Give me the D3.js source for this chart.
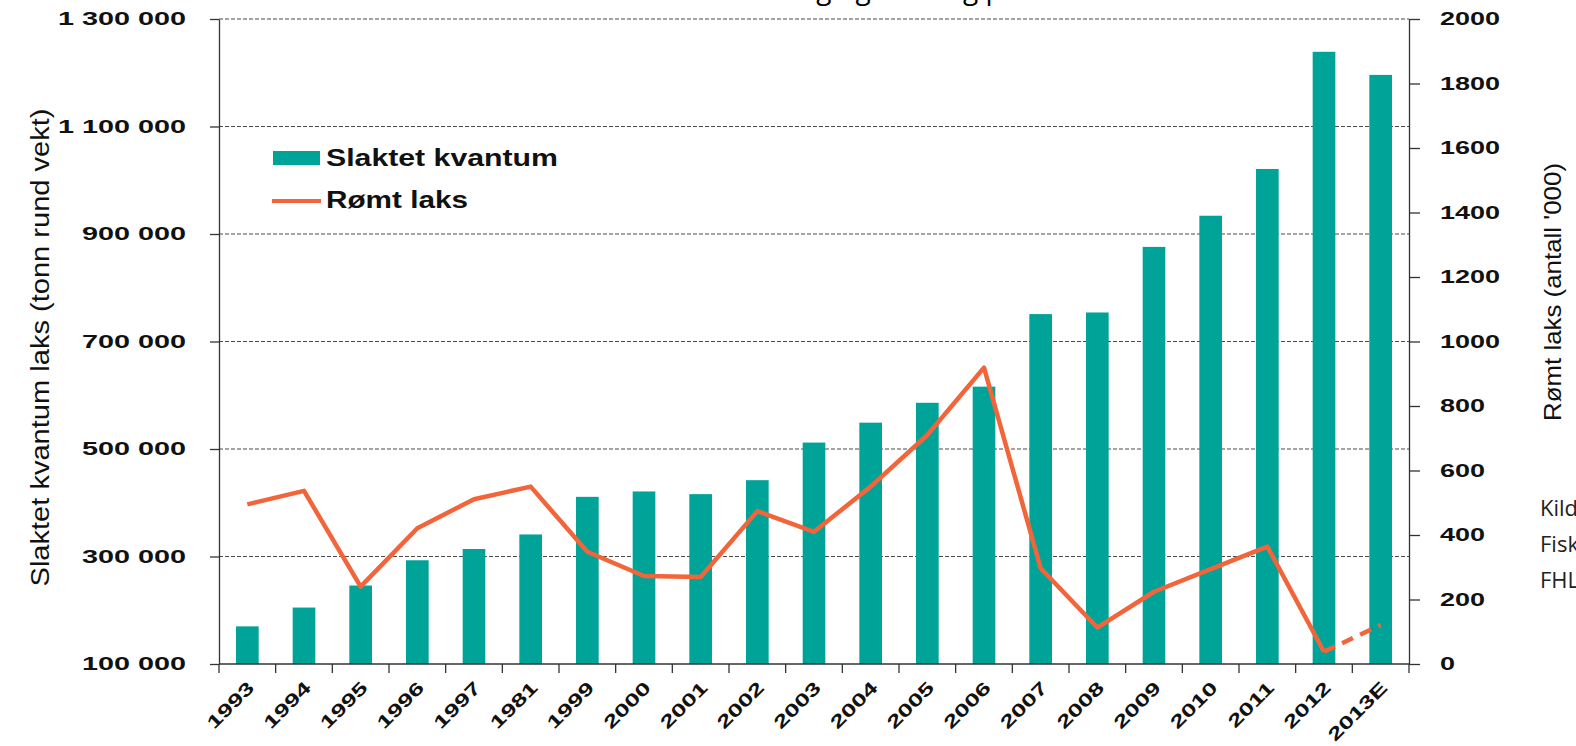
<html>
<head>
    <meta charset="UTF-8" />
    <script src="https://d3js.org/d3.v7.min.js"></script>
    <style>
        body { margin: 0; background: white; }
        .grid { stroke: #4a4a4a; stroke-width: 1.2px; stroke-dasharray: 4,2; }
        .tick text { font-family: "Liberation Sans", Arial, sans-serif; font-weight: bold; font-size: 18px; fill: #111; }
        .axis path, .axis line { stroke: #333; stroke-width: 1.3px; }
    </style>
</head>
<body>
<svg id="chart" width="1576" height="746"></svg>
<script>
    // data
    const years = ["1993","1994","1995","1996","1997","1981","1999","2000","2001","2002","2003",
                   "2004","2005","2006","2007","2008","2009","2010","2011","2012","2013E"];
    const slaktet = [170000, 205000, 246000, 293000, 314000, 341000, 411000, 421000, 416000, 442000, 512000,
                     549000, 586000, 616000, 751000, 754000, 876000, 934000, 1021000, 1239000, 1196000];
    const romt = [495, 537, 240, 421, 511, 550, 348, 273, 270, 474, 410,
                  550, 710, 919, 297, 113, 224, 294, 364, 38, 121];
    const leftTicks = [100000, 300000, 500000, 700000, 900000, 1100000, 1300000];
    const rightTicks = [0, 200, 400, 600, 800, 1000, 1200, 1400, 1600, 1800, 2000];
    const kilde = ["Kilde:", "Fiskeridirektoratet", "FHL"];

    const svg = d3.select("#chart");
    const margin = { top: 19, right: 167, bottom: 82, left: 219 };
    const width = 1576, height = 746;
    const x0 = margin.left, x1 = width - margin.right, y0 = height - margin.bottom, y1 = margin.top;

    const x = d3.scaleBand().domain(years).range([x0, x1]).paddingInner(0.6).paddingOuter(0.3);
    const yL = d3.scaleLinear().domain([100000, 1300000]).range([y0, y1]);
    const yR = d3.scaleLinear().domain([0, 2000]).range([y0, y1]);
    const step = x.step();
    const nb = d3.formatLocale({ decimal: ",", thousands: " ", grouping: [3], currency: ["", ""] }).format(",");

    // stretched text like the original picture
    function stretch(sel, k) {
        sel.each(function () {
            const len = this.getComputedTextLength();
            d3.select(this).attr("textLength", len * k).attr("lengthAdjust", "spacingAndGlyphs");
        });
    }

    // title, cut off at the top
    svg.append("text")
        .attr("x", 885).attr("y", -1)
        .attr("text-anchor", "middle")
        .style("font-family", "'Open Sans', sans-serif")
        .style("font-size", "28px")
        .text("Rømming og slakting per år");

    // grid
    svg.append("g").selectAll("line").data(leftTicks.filter(d => d > 100000))
        .join("line")
        .attr("class", "grid")
        .attr("x1", x0).attr("x2", x1)
        .attr("y1", d => yL(d)).attr("y2", d => yL(d));

    // bars
    svg.append("g").selectAll("rect").data(years)
        .join("rect")
        .attr("x", d => x(d))
        .attr("width", x.bandwidth())
        .attr("y", (d, i) => yL(slaktet[i]))
        .attr("height", (d, i) => y0 - yL(slaktet[i]))
        .style("fill", "#00a398");

    // axes
    const left = svg.append("g").attr("class", "axis")
        .attr("transform", "translate(" + x0 + ",0)")
        .call(d3.axisLeft(yL).tickValues(leftTicks).tickSize(9).tickSizeOuter(0).tickPadding(24).tickFormat(nb));
    stretch(left.selectAll(".tick text"), 1.6);

    const right = svg.append("g").attr("class", "axis")
        .attr("transform", "translate(" + x1 + ",0)")
        .call(d3.axisRight(yR).tickValues(rightTicks).tickSize(11).tickSizeOuter(0).tickPadding(20).tickFormat(d3.format("d")));
    stretch(right.selectAll(".tick text"), 1.5);

    svg.append("line").attr("class", "axis")
        .attr("x1", x0).attr("x2", x1).attr("y1", y0).attr("y2", y0)
        .style("stroke", "#333").style("stroke-width", 1.5);

    // x ticks between categories
    const bounds = d3.range(years.length + 1).map(i => x0 + i * step);
    svg.append("g").selectAll("line").data(bounds)
        .join("line")
        .attr("x1", d => d).attr("x2", d => d)
        .attr("y1", y0).attr("y2", y0 + 9)
        .style("stroke", "#333").style("stroke-width", 1.3);

    const xl = svg.append("g").selectAll("text").data(years)
        .join("text")
        .attr("class", "xlab")
        .attr("text-anchor", "end")
        .attr("transform", d => "translate(" + (x(d) + x.bandwidth() / 2 + 8) + "," + (y0 + 25) + ") rotate(-45)")
        .style("font-family", "'Liberation Sans', Arial, sans-serif")
        .style("font-weight", "bold")
        .style("font-size", "18px")
        .style("fill", "#111")
        .text(d => d);
    stretch(xl, 1.45);

    // line
    const cx = d => x(d) + x.bandwidth() / 2;
    const line = d3.line().x(d => cx(d[0])).y(d => yR(d[1]));
    const pts = years.map((d, i) => [d, romt[i]]);
    svg.append("path").datum(pts.slice(0, 20))
        .attr("d", line)
        .style("fill", "none").style("stroke", "#f2643a").style("stroke-width", 4.5)
        .style("stroke-linejoin", "round");
    svg.append("path").datum(pts.slice(19))
        .attr("d", line)
        .style("fill", "none").style("stroke", "#f2643a").style("stroke-width", 4.5)
        .style("stroke-dasharray", "12,8");

    // legend
    const lg = svg.append("g");
    lg.append("rect").attr("x", 273).attr("y", 151).attr("width", 47).attr("height", 14).style("fill", "#00a398");
    lg.append("line").attr("x1", 272).attr("x2", 321).attr("y1", 201).attr("y2", 201)
        .style("stroke", "#f2643a").style("stroke-width", 4);
    lg.selectAll("text").data([["Slaktet kvantum", 166, 232], ["Rømt laks", 208, 142]])
        .join("text")
        .attr("x", 326).attr("y", d => d[1])
        .attr("textLength", d => d[2]).attr("lengthAdjust", "spacingAndGlyphs")
        .style("font-family", "'Liberation Sans', Arial, sans-serif")
        .style("font-weight", "bold").style("font-size", "24px").style("fill", "#111")
        .text(d => d[0]);

    // axis titles
    svg.append("text")
        .attr("transform", "translate(49," + ((y0 + y1) / 2 + 6) + ") rotate(-90)")
        .attr("text-anchor", "middle")
        .attr("textLength", 478).attr("lengthAdjust", "spacingAndGlyphs")
        .style("font-family", "'Liberation Sans Narrow', 'Liberation Sans', Arial, sans-serif")
        .style("font-size", "25px").style("fill", "#111")
        .text("Slaktet kvantum laks (tonn rund vekt)");

    svg.append("text")
        .attr("transform", "translate(1561,292) rotate(-90)")
        .attr("text-anchor", "middle")
        .attr("textLength", 258).attr("lengthAdjust", "spacingAndGlyphs")
        .style("font-family", "'Liberation Sans Narrow', 'Liberation Sans', Arial, sans-serif")
        .style("font-size", "24px").style("fill", "#111")
        .text("Rømt laks (antall '000)");

    // source, cut off at the right edge
    svg.append("g").selectAll("text").data(kilde)
        .join("text")
        .attr("x", 1540).attr("y", (d, i) => 516 + i * 36)
        .style("font-family", "'Open Sans', sans-serif")
        .style("font-size", "22px").style("fill", "#222")
        .text(d => d);
</script>
</body>
</html>
